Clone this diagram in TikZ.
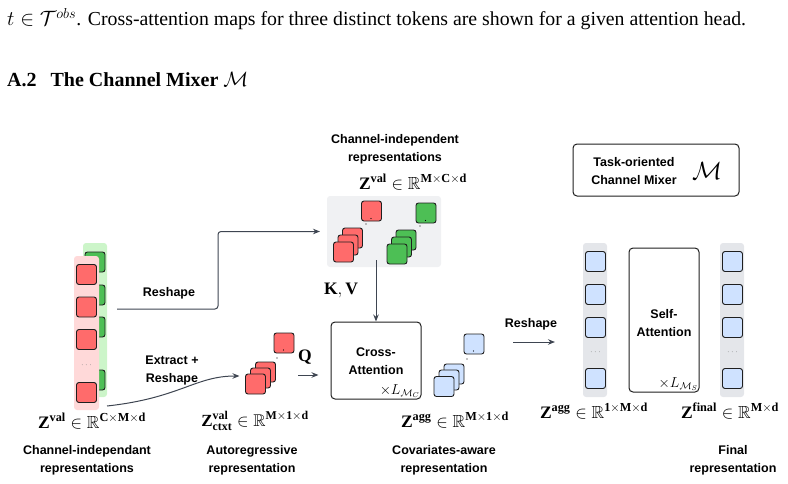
\documentclass[tikz,border=0pt]{standalone}
\usepackage{amssymb}
\usepackage{fontspec}
\setmainfont{Liberation Serif}
\setsansfont{Liberation Sans}
\usetikzlibrary{arrows.meta}
\definecolor{redsq}{HTML}{FF6B6B}
\definecolor{greensq}{HTML}{4DBF55}
\definecolor{bluesq}{HTML}{CFE2FF}
\definecolor{pinkbg}{HTML}{FFD9D9}
\definecolor{greenbg}{HTML}{CCF5C9}
\definecolor{greybg}{HTML}{E4E6EA}
\definecolor{blockbg}{HTML}{F0F1F3}
\definecolor{lnclr}{HTML}{3E4551}
\definecolor{edgeclr}{HTML}{1F1F1F}
\tikzset{
  sq/.style={draw=edgeclr, line width=0.9pt, rounded corners=2.5pt, minimum size=20pt, inner sep=0pt, outer sep=0pt},
  rsq/.style={sq, fill=redsq},
  gsq/.style={sq, fill=greensq},
  bsq/.style={sq, fill=bluesq},
  stripbox/.style={rounded corners=3pt, draw=none, inner sep=0pt, outer sep=0pt},
  lbl/.style={font=\sffamily\bfseries\fontsize{12.5}{18}\selectfont, align=center, inner sep=0pt},
  mth/.style={font=\fontsize{17.5}{20}\selectfont, inner sep=0pt},
  arr/.style={draw=lnclr, line width=1pt, -{Stealth[length=7pt,width=5.5pt]}},
  opbox/.style={draw=edgeclr, line width=1pt, rounded corners=4pt, inner sep=0pt},
  dotsl/.style={text=gray, font=\fontsize{9}{9}\selectfont, inner sep=0pt},
}
\begin{document}
\begin{tikzpicture}[x=1pt,y=-1pt]
\useasboundingbox (0,0) rectangle (788,483);
% page text
\node[anchor=west, inner sep=0pt, font=\fontsize{19.8}{22}\selectfont] (toptext) at (7,19) {$t\in\mathcal{T}^{obs}$. Cross-attention maps for three distinct tokens are shown for a given attention head.};
\node[anchor=west, inner sep=0pt, font=\bfseries\fontsize{20}{23}\selectfont] (heading) at (7,80) {A.2\hspace{14pt}The Channel Mixer $\mathcal{M}$};

% left column
\node[stripbox, fill=greenbg, minimum width=24pt, minimum height=154pt] (gstrip) at (95,320) {};
\node[gsq] (g1) at (95,262) {};
\node[gsq] (g2) at (95,295) {};
\node[gsq] (g3) at (95,327) {};
\node[gsq] (g4) at (95,380) {};
\node[stripbox, fill=pinkbg, minimum width=25pt, minimum height=154pt] (pstrip) at (86.5,333) {};
\node[rsq] (r1) at (86.5,274.5) {};
\node[rsq] (r2) at (86.5,307) {};
\node[rsq] (r3) at (86.5,339.5) {};
\node[dotsl] (rdots) at (86.5,365) {$\cdots$};
\node[rsq] (r4) at (86.5,392.5) {};
\node[mth] (zval) at (92,421) {$\mathbf{Z}^{\mathbf{val}}\in\mathbb{R}^{\mathbf{C\times M\times d}}$};
\node[lbl] (lcap) at (87,460) {Channel-independant\\representations};

% channel-independent block
\node[stripbox, fill=blockbg, minimum width=114pt, minimum height=71pt] (kvbg) at (384,231.5) {};
\node[rsq] (kr3) at (352.5,238) {};
\node[rsq] (kr2) at (348,245) {};
\node[rsq] (kr1) at (343.5,252) {};
\node[rsq] (krt) at (371.5,211) {};
\node[gsq] (kg3) at (406,240) {};
\node[gsq] (kg2) at (401.5,247) {};
\node[gsq] (kg1) at (397,254) {};
\node[gsq] (kgt) at (426,213) {};
\fill (371,218.5) circle (0.7pt) (366,224) circle (0.6pt);
\fill (425.5,220.5) circle (0.7pt) (420,226) circle (0.6pt);
\node[lbl] (kvcap) at (395,149) {Channel-independent\\representations};
\node[mth] (zvalb) at (413,182) {$\mathbf{Z}^{\mathbf{val}}\in\mathbb{R}^{\mathbf{M\times C\times d}}$};

% reshape arrow to block
\coordinate (rs0) at (117,309);
\draw[arr, rounded corners=3pt, shorten >=7pt] (rs0) -- (218,309) |- (kvbg.west);
\node[lbl] (rslbl) at (169,293) {Reshape};

% ctxt stack
\node[rsq] (cr3) at (265.5,372) {};
\node[rsq] (cr2) at (260.5,378) {};
\node[rsq] (cr1) at (255.5,384) {};
\node[rsq] (crt) at (284,343) {};
\fill (283.5,350) circle (0.7pt) (277,358) circle (0.6pt);
\coordinate (ex0) at (107,406);
\draw[arr, shorten >=6pt] (ex0) .. controls (180,398) and (195,376) .. (cr1.west |- 0,376);
\node[lbl] (exlbl) at (172,370) {Extract +\\Reshape};
\node[mth, font=\fontsize{17}{20}\selectfont] (zctxt) at (255,421) {$\mathbf{Z}^{\mathbf{val}}_{\mathbf{ctxt}}\in\mathbb{R}^{\mathbf{M\times 1\times d}}$};
\node[lbl] (ccap) at (252,460) {Autoregressive\\representation};

% cross attention
\node[opbox, minimum width=90pt, minimum height=77pt] (cross) at (376,360.5) {};
\node[lbl] (crosst) at (376,361) {Cross-\\Attention};
\node[anchor=south east, inner sep=1.5pt, font=\fontsize{14}{16}\selectfont] (lmc) at (cross.south east) {$\times L_{\mathcal{M}_C}$};
\draw[arr] ([yshift=7pt]kvbg.south -| cross.north) -- (cross.north);
\node[font=\bfseries\fontsize{17.5}{20}\selectfont, inner sep=0pt] (kvl) at (341,290) {$\mathbf{K},\mathbf{V}$};
\coordinate (q0) at (298,375);
\draw[arr, shorten >=12pt] (q0) -- (q0 -| cross.west);
\node[font=\bfseries\fontsize{17.5}{20}\selectfont, inner sep=0pt] (ql) at (305,357) {$\mathbf{Q}$};

% covariates-aware stack
\node[bsq] (br3) at (454,374) {};
\node[bsq] (br2) at (449,380) {};
\node[bsq] (br1) at (444,386.5) {};
\node[bsq] (brt) at (474,344) {};
\fill (473.5,351) circle (0.7pt) (467,359) circle (0.6pt);
\node[mth] (zagg) at (455,420) {$\mathbf{Z}^{\mathbf{agg}}\in\mathbb{R}^{\mathbf{M\times 1\times d}}$};
\node[lbl] (bcap) at (444,460) {Covariates-aware\\representation};

% reshape right
\coordinate (rr0) at (513,342);
\node[stripbox, fill=greybg, minimum width=24pt, minimum height=154pt] (s1) at (595,320) {};
\draw[arr, shorten >=28pt] (rr0) -- (rr0 -| s1.west);
\node[lbl] (rrlbl) at (531,324) {Reshape};
\node[bsq] (a1) at (595.5,261.5) {};
\node[bsq] (a2) at (595.5,294.5) {};
\node[bsq] (a3) at (595.5,327.5) {};
\node[dotsl] (adots) at (595.5,352) {$\cdots$};
\node[bsq] (a4) at (595.5,378.5) {};
\node[mth] (zagg2) at (594,411) {$\mathbf{Z}^{\mathbf{agg}}\in\mathbb{R}^{\mathbf{1\times M\times d}}$};

% self attention
\node[opbox, minimum width=70pt, minimum height=144pt] (self) at (664,320) {};
\node[lbl] (selft) at (664,323) {Self-\\Attention};
\node[anchor=south east, inner sep=1.5pt, font=\fontsize{14}{16}\selectfont] (lms) at (self.south east) {$\times L_{\mathcal{M}_S}$};

% final column
\node[stripbox, fill=greybg, minimum width=24pt, minimum height=154pt] (s2) at (732,320) {};
\node[bsq] (f1) at (732.5,261.5) {};
\node[bsq] (f2) at (732.5,294.5) {};
\node[bsq] (f3) at (732.5,327.5) {};
\node[dotsl] (fdots) at (732.5,352) {$\cdots$};
\node[bsq] (f4) at (732.5,378.5) {};
\node[mth] (zfin) at (730,411) {$\mathbf{Z}^{\mathbf{final}}\in\mathbb{R}^{\mathbf{M\times d}}$};
\node[lbl] (fcap) at (733,460) {Final\\representation};

% task box
\node[opbox, minimum width=166pt, minimum height=52pt] (task) at (656,170) {};
\node[lbl] (taskt) at (634,171) {Task-oriented\\Channel Mixer};
\node[inner sep=0pt, font=\fontsize{30}{32}\selectfont] (taskm) at (707,171) {$\mathcal{M}$};
\end{tikzpicture}
\end{document}
